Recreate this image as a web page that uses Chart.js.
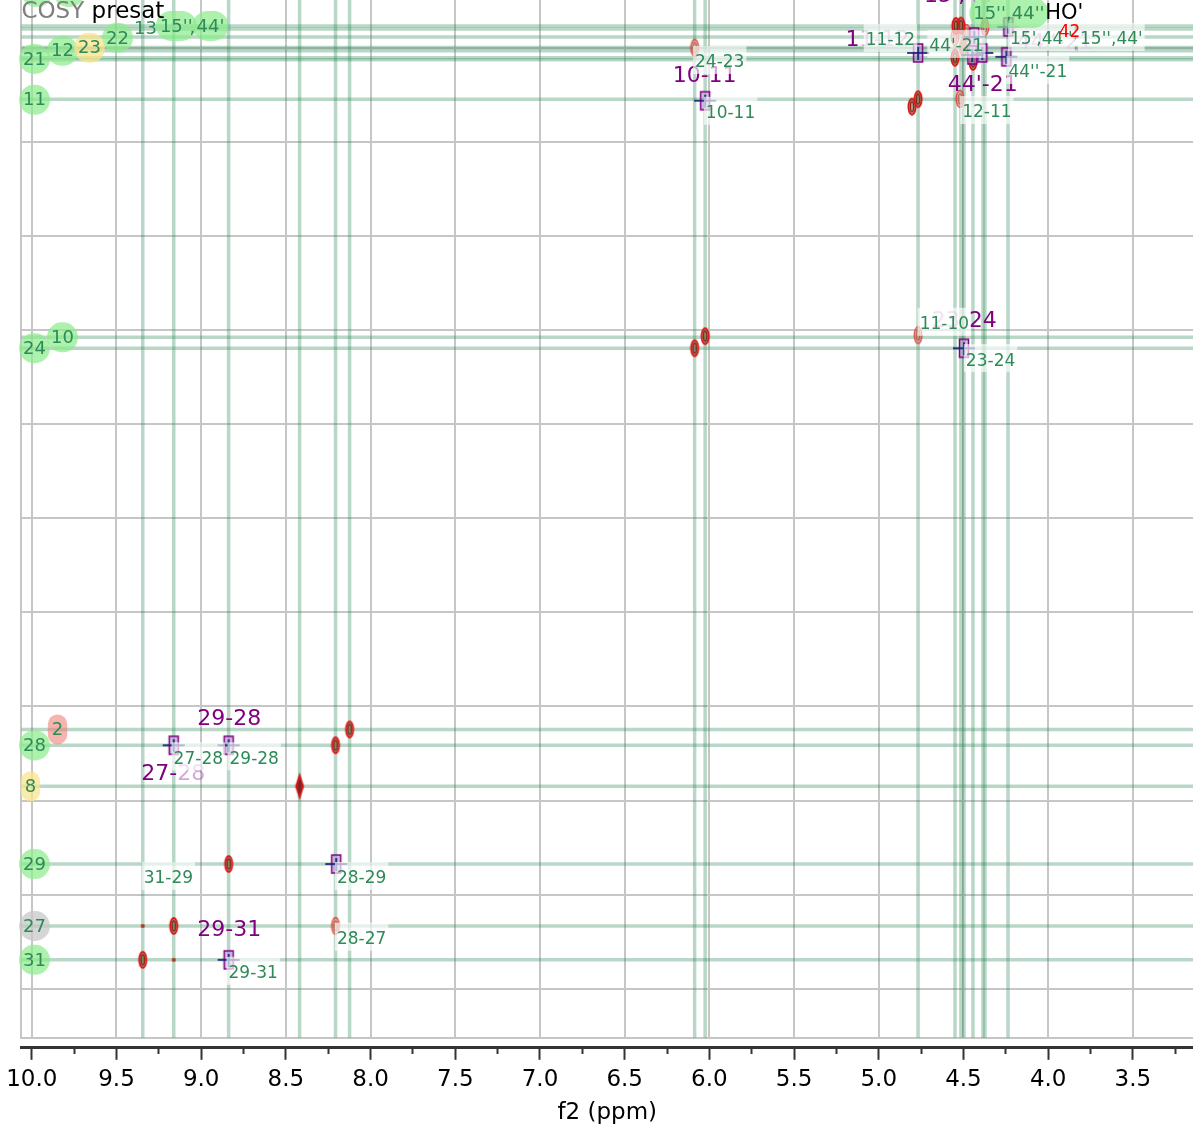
<!DOCTYPE html>
<html>
<head>
<meta charset="utf-8">
<script src="https://cdn.jsdelivr.net/npm/chart.js@4.4.1/dist/chart.umd.min.js"></script>
<style>
  html, body { margin: 0; padding: 0; background: #fff; overflow: hidden; }
  #wrap { width: 1193px; height: 1129px; }
  canvas { display: block; }
</style>
</head>
<body>
<div id="wrap"><canvas id="cosy"></canvas></div>
<script>
// visible window of the spectrum (ppm), both axes run high -> low
const f2Range = [3.145, 10.061];
const f1Range = [4.247, 9.760];

// assignment lines (green)
const f2Lines = [9.345, 9.162, 8.838, 8.419, 8.207, 8.124, 6.087, 6.025,
  4.768, 4.550, 4.515, 4.497, 4.444, 4.385, 4.373, 4.237];
const f1Lines = [4.385, 4.401, 4.443, 4.499, 4.517, 4.554, 4.565, 4.774,
  6.038, 6.097, 8.122, 8.206, 8.424, 8.837, 9.166, 9.346];

// contour peaks
const strongPeaks = [
  [8.124, 8.122], [8.207, 8.206], [8.838, 8.837], [9.162, 9.166], [9.345, 9.346],
  [6.087, 6.097], [6.025, 6.033], [4.768, 4.774], [4.804, 4.814],
  [4.515, 4.383], [4.550, 4.554], [4.444, 4.576], [4.545, 4.385],
];
const weakPeaks = [
  [8.207, 9.166], [6.087, 4.501], [4.768, 6.028], [4.521, 4.772],
  [4.550, 4.443], [4.483, 4.422], [4.373, 4.390], [4.500, 4.500],
];
const tallPeaks = [[8.419, 8.424]];
const tinyPeaks = [[9.345, 9.166], [9.162, 9.346]];
// picked cross peaks (square + cross)
const pickedPeaks = [
  [9.162, 8.206], [8.838, 8.206], [8.203, 8.837], [8.838, 9.346],
  [6.025, 4.782], [4.497, 6.097], [4.768, 4.528],
  [4.436, 4.443], [4.389, 4.528], [4.448, 4.539], [4.247, 4.549], [4.235, 4.390],
];

// proton labels on the left: text, f2, f1
const greenRows = [
  ['15', 9.97, 4.205], ['44', 9.78, 4.205],
  ['21', 9.984, 4.560], ['12', 9.819, 4.517], ['22', 9.494, 4.448],
  ["15''", 9.147, 4.385], ["44'", 8.945, 4.385],
  ['11', 9.984, 4.777], ['24', 9.984, 6.097], ['10', 9.819, 6.039],
  ['28', 9.984, 8.207], ['29', 9.984, 8.837], ['31', 9.984, 9.346],
  ["15'',44''", 4.232, 4.316],
];
const yellowRows = [['23', 9.659, 4.501], ['8', 10.008, 8.424]];
const pinkRows = [['2', 9.848, 8.122]];
const grayRows = [['27', 9.984, 9.166]];
const plainRows = [['13', 9.329, 4.395], [',', 9.052, 4.392]];

// cross peak assignments (green, small)
const crossLabels = [
  ['24-23', 5.939, 4.576], ['10-11', 5.875, 4.846], ['12-11', 4.362, 4.842],
  ["44''-21", 4.061, 4.629], ['11-12', 4.931, 4.459], ["44'-21", 4.542, 4.491],
  ["15',44''", 4.040, 4.454], ["15'',44'", 3.627, 4.454],
  ['11-10', 4.613, 5.967], ['23-24', 4.340, 6.160],
  ['27-28', 9.017, 8.275], ['29-28', 8.687, 8.275], ['31-29', 9.194, 8.911],
  ['28-29', 8.053, 8.911], ['28-27', 8.053, 9.234], ['29-31', 8.693, 9.415],
];
// multiplet labels (purple, large): dark part, pale part, f2, f1
const purpleLabels = [
  ['10-11', '', 6.028, 4.650], ["44'-21", '', 4.386, 4.698],
  ['', '23', 4.604, 5.954], ['24', '', 4.386, 5.954],
  ['1', '1-12', 5.008, 4.459], ["15',", "44''", 4.493, 4.226],
  ['', "44''-21", 3.962, 4.475],
  ['29-28', '', 8.834, 8.069], ['27-', '28', 9.165, 8.360], ['29-31', '', 8.834, 9.187],
];
const redLabels = [['42', 3.874, 4.422]];
const blackLabels = [["HO'", 3.905, 4.319]];

const FONT = "'DejaVu Sans', Verdana, sans-serif";
const GREEN = '#2e8b57';
const GRID = '#c6c6c6';

function makeMark(w, h, draw) {
  const c = document.createElement('canvas');
  c.width = w;
  c.height = h;
  draw(c.getContext('2d'), w / 2, h / 2);
  return c;
}
const strongMark = makeMark(12, 20, (g, cx, cy) => {
  g.beginPath(); g.ellipse(cx, cy, 3.6, 8, 0, 0, Math.PI * 2);
  g.fillStyle = 'rgba(120,100,90,0.55)'; g.fill();
  g.lineWidth = 1.8; g.strokeStyle = '#e01212'; g.stroke();
  g.beginPath(); g.ellipse(cx, cy, 1.6, 5, 0, 0, Math.PI * 2);
  g.lineWidth = 1.4; g.strokeStyle = '#7a2a10'; g.stroke();
});
const weakMark = makeMark(12, 20, (g, cx, cy) => {
  g.beginPath(); g.ellipse(cx, cy, 3.8, 8.5, 0, 0, Math.PI * 2);
  g.fillStyle = 'rgba(235,120,105,0.55)'; g.fill();
  g.lineWidth = 1.4; g.strokeStyle = 'rgba(220,60,50,0.85)'; g.stroke();
  g.beginPath(); g.ellipse(cx, cy, 1.8, 5, 0, 0, Math.PI * 2);
  g.lineWidth = 1.2; g.strokeStyle = 'rgba(150,70,60,0.7)'; g.stroke();
});
const tallMark = makeMark(12, 30, (g, cx, cy) => {
  g.beginPath();
  g.moveTo(cx, 1); g.lineTo(cx + 4.5, cy); g.lineTo(cx, 29); g.lineTo(cx - 4.5, cy); g.closePath();
  g.fillStyle = '#d01818'; g.fill();
  g.beginPath(); g.ellipse(cx, cy, 1.5, 7, 0, 0, Math.PI * 2);
  g.fillStyle = '#6b2a20'; g.fill();
});
const tinyMark = makeMark(6, 6, (g, cx, cy) => {
  g.beginPath(); g.arc(cx, cy, 2, 0, Math.PI * 2);
  g.fillStyle = '#b83a20'; g.fill();
});
const pickMark = makeMark(26, 22, (g, cx, cy) => {
  g.fillStyle = 'rgba(175,150,205,0.6)';
  g.fillRect(cx - 4.5, cy - 9, 9, 18);
  g.lineWidth = 1.5; g.strokeStyle = '#800080';
  g.strokeRect(cx - 4.5, cy - 9, 9, 18);
  g.strokeStyle = 'rgba(20,30,120,0.85)'; g.lineWidth = 2;
  g.beginPath(); g.moveTo(cx - 11, cy); g.lineTo(cx + 11, cy); g.stroke();
  g.beginPath(); g.moveTo(cx, cy - 6); g.lineTo(cx, cy + 7); g.stroke();
});

const lineSets = [
  ...f2Lines.map((v) => [{ x: v, y: f1Range[0] - 0.1 }, { x: v, y: f1Range[1] + 0.1 }]),
  ...f1Lines.map((v) => [{ x: f2Range[1] + 0.1, y: v }, { x: f2Range[0] - 0.1, y: v }]),
].map((pts) => ({
  data: pts,
  showLine: true,
  pointRadius: 0,
  borderColor: 'rgba(46,139,87,0.34)',
  borderWidth: 3.5,
  order: 3,
}));

const markSet = (arr, mark, order) => ({
  data: arr.map(([x, y]) => ({ x, y })),
  pointStyle: mark,
  order,
});

function drawParts(ctx, parts, cx, cy) {
  const widths = parts.map(([t]) => ctx.measureText(t).width);
  let x = cx - widths.reduce((a, b) => a + b, 0) / 2;
  parts.forEach(([t, c], i) => {
    ctx.fillStyle = c;
    ctx.fillText(t, x, cy);
    x += widths[i];
  });
}

const labelPlugin = {
  id: 'cosyLabels',
  afterDatasetsDraw(chart) {
    const { ctx, chartArea, scales: { x, y } } = chart;
    const px = (v) => x.getPixelForValue(v);
    const py = (v) => y.getPixelForValue(v);
    ctx.save();
    ctx.textAlign = 'left';
    ctx.textBaseline = 'middle';

    // purple multiplet labels
    ctx.font = `22px ${FONT}`;
    purpleLabels.forEach(([dark, pale, f2, f1]) => {
      drawParts(ctx, [[dark, '#800080'], [pale, 'rgba(160,60,170,0.45)']], px(f2), py(f1));
    });

    // green cross peak labels on a white wash
    ctx.font = `17px ${FONT}`;
    crossLabels.forEach(([t, f2, f1]) => {
      const w = ctx.measureText(t).width;
      const cx = px(f2); const cy = py(f1);
      ctx.fillStyle = 'rgba(255,255,255,0.65)';
      ctx.fillRect(cx - w / 2 - 2, cy - 16, w + 4, 28);
      drawParts(ctx, [[t, GREEN]], cx, cy + 1);
    });

    redLabels.forEach(([t, f2, f1]) => drawParts(ctx, [[t, '#ff0000']], px(f2), py(f1)));

    // proton badges
    ctx.font = `18px ${FONT}`;
    const badge = (rows, fill) => rows.forEach(([t, f2, f1]) => {
      const w = ctx.measureText(t).width;
      const cx = px(f2); const cy = py(f1);
      if (fill) {
        const bw = w + 8;
        ctx.fillStyle = fill;
        ctx.beginPath();
        ctx.roundRect(cx - bw / 2, cy - 15, bw, 30, Math.min(15, bw / 2));
        ctx.fill();
      }
      drawParts(ctx, [[t, GREEN]], cx, cy + 1);
    });
    badge(greenRows, 'rgba(140,235,140,0.72)');
    badge(yellowRows, 'rgba(250,228,140,0.75)');
    badge(pinkRows, 'rgba(240,130,125,0.6)');
    badge(grayRows, 'rgba(200,200,200,0.75)');
    badge(plainRows, null);

    ctx.font = `21px ${FONT}`;
    blackLabels.forEach(([t, f2, f1]) => drawParts(ctx, [[t, '#000']], px(f2), py(f1)));

    // spectrum name in the corner
    ctx.font = `23px ${FONT}`;
    ctx.textBaseline = 'alphabetic';
    ctx.fillStyle = '#7f7f7f';
    ctx.fillText('COSY', chartArea.left, chartArea.top + 18);
    const w = ctx.measureText('COSY ').width;
    ctx.fillStyle = '#000';
    ctx.fillText('presat', chartArea.left + w, chartArea.top + 18);
    ctx.restore();
  },
};

const isHalf = (v) => Math.abs(v * 2 - Math.round(v * 2)) < 1e-6;

new Chart(document.getElementById('cosy'), {
  type: 'scatter',
  data: {
    datasets: [
      markSet(pickedPeaks, pickMark, 1),
      markSet(strongPeaks, strongMark, 2),
      markSet(weakPeaks, weakMark, 2),
      markSet(tallPeaks, tallMark, 2),
      markSet(tinyPeaks, tinyMark, 2),
      ...lineSets,
    ],
  },
  options: {
    animation: false,
    responsive: true,
    maintainAspectRatio: false,
    events: [],
    layout: { autoPadding: false, padding: { left: 20, top: 0, right: 0, bottom: 2 } },
    plugins: { legend: { display: false }, tooltip: { enabled: false } },
    scales: {
      x: {
        type: 'linear',
        reverse: true,
        min: f2Range[0],
        max: f2Range[1],
        ticks: { display: false, stepSize: 0.5, includeBounds: false },
        grid: { color: GRID, lineWidth: 2, tickLength: 10, tickColor: 'rgba(0,0,0,0)' },
        border: { color: GRID, width: 2 },
      },
      x2: {
        type: 'linear',
        position: 'bottom',
        weight: 1,
        reverse: true,
        min: f2Range[0],
        max: f2Range[1],
        ticks: {
          stepSize: 0.25,
          includeBounds: false,
          autoSkip: false,
          maxRotation: 0,
          padding: 6,
          color: '#000',
          font: { family: FONT, size: 23 },
          callback: (v) => (isHalf(v) ? v.toFixed(1) : ''),
        },
        grid: {
          drawOnChartArea: false,
          tickLength: 12,
          tickWidth: 2,
          tickColor: '#333',
          tickBorderDash: (c) => (c.tick && isHalf(c.tick.value) ? [] : [5, 30]),
        },
        border: { color: '#333', width: 3 },
        title: {
          display: true,
          text: 'f2 (ppm)',
          color: '#000',
          font: { family: FONT, size: 23 },
          padding: { top: 0, bottom: 0 },
        },
      },
      y: {
        type: 'linear',
        reverse: true,
        min: f1Range[0],
        max: f1Range[1],
        ticks: { display: false, stepSize: 0.5, includeBounds: false },
        grid: { color: GRID, lineWidth: 2, drawTicks: false },
        border: { color: GRID, width: 2 },
      },
    },
  },
  plugins: [labelPlugin],
});
</script>
</body>
</html>
